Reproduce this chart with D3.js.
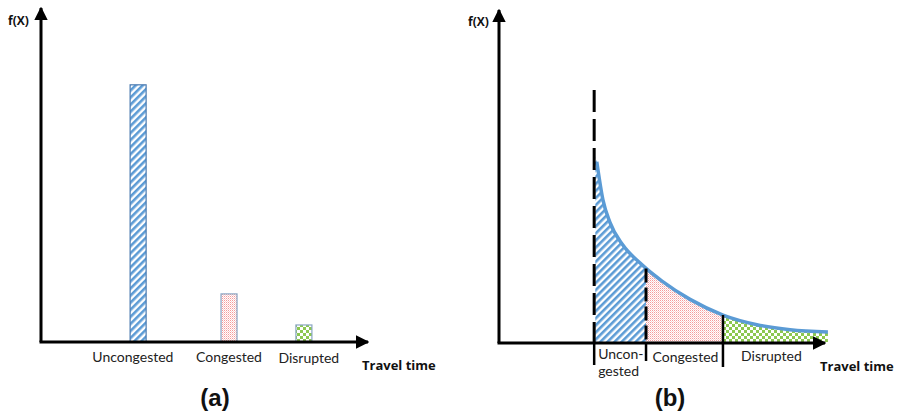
<!DOCTYPE html>
<html lang="en">
<head>
<meta charset="UTF-8" />
<title>Travel time distributions</title>
<script src="https://d3js.org/d3.v7.min.js"></script>
<style>
    body { margin: 0; background: #fff; }
    svg { display: block; }
    .lbl { font-family: Lato, "Open Sans", sans-serif; font-size: 14px; fill: #222; }
    .ttl { font-family: "Open Sans", Lato, sans-serif; font-size: 13px; font-weight: bold; fill: #111; }
    .pan { font-family: "Liberation Sans", Arial, sans-serif; font-size: 24px; font-weight: bold; fill: #111; }
</style>
</head>
<body>
<svg id="chart" width="897" height="415"></svg>
<script>
// --- Daten ---
// (a) diskrete Verteilung
const categories = ["Uncongested", "Congested", "Disrupted"];
const barValues = [7.7, 1.44, 0.51];
const barCenters = [2.97, 5.75, 8.04];      // Lage auf der Reisezeit-Achse
const barLabelCenters = [2.81, 5.75, 8.19];

// (b) stetige Verteilung
const curveX = [2.95, 3.0, 3.19, 3.4, 3.8, 4.33, 4.51, 5.0, 5.86, 6.87, 7.91, 8.93, 10.09];
const curveY = [5.6, 5.44, 4.29, 3.63, 2.94, 2.4, 2.24, 1.86, 1.31, 0.84, 0.55, 0.4, 0.33];
const segmentBounds = [2.95, 4.51, 6.87, 10.09];
const segmentLabels = [["Uncon-", "gested"], ["Congested"], ["Disrupted"]];
const dashTop = 7.6;

const svg = d3.select("#chart");
const defs = svg.append("defs");

// Muster: blau schraffiert, rot gepunktet, grün kariert
const hatch = defs.append("pattern").attr("id", "hatch")
    .attr("patternUnits", "userSpaceOnUse").attr("width", 5).attr("height", 5)
    .attr("patternTransform", "rotate(45)");
hatch.append("rect").attr("width", 5).attr("height", 5).attr("fill", "#fff");
hatch.append("rect").attr("width", 2.6).attr("height", 5).attr("fill", "#5b9bd5");

const dots = defs.append("pattern").attr("id", "dots")
    .attr("patternUnits", "userSpaceOnUse").attr("width", 2).attr("height", 2);
dots.append("rect").attr("width", 2).attr("height", 2).attr("fill", "#fff");
dots.append("rect").attr("width", 1).attr("height", 1).attr("fill", "#f59a9a");
dots.append("rect").attr("x", 1).attr("y", 1).attr("width", 1).attr("height", 1).attr("fill", "#fbd0d0");

const check = defs.append("pattern").attr("id", "check")
    .attr("patternUnits", "userSpaceOnUse").attr("width", 6).attr("height", 6);
check.append("rect").attr("width", 6).attr("height", 6).attr("fill", "#fff");
check.append("rect").attr("width", 3).attr("height", 3).attr("fill", "#8cc850");
check.append("rect").attr("x", 3).attr("y", 3).attr("width", 3).attr("height", 3).attr("fill", "#8cc850");

const fills = ["url(#hatch)", "url(#dots)", "url(#check)"];
const borders = ["#4a7ab0", "#8aa6c4", "#8aa6c4"];

defs.append("marker").attr("id", "arrow")
    .attr("viewBox", "0 0 10 10").attr("refX", 9).attr("refY", 5)
    .attr("markerWidth", 4.5).attr("markerHeight", 4.5).attr("orient", "auto")
    .append("path").attr("d", "M0,0 L10,5 L0,10 Z").attr("fill", "#000");

function drawAxes(g, x0, x1, y0, y1) {
    g.append("line").attr("x1", x0).attr("y1", y0).attr("x2", x0).attr("y2", y1)
        .attr("stroke", "#000").attr("stroke-width", 3).attr("marker-end", "url(#arrow)");
    g.append("line").attr("x1", x0 - 1.5).attr("y1", y0).attr("x2", x1).attr("y2", y0)
        .attr("stroke", "#000").attr("stroke-width", 3).attr("marker-end", "url(#arrow)");
}

// --- Panel (a) ---
(function () {
    const x = d3.scaleLinear().domain([0, 10]).range([41, 368]);
    const y = d3.scaleLinear().domain([0, 10]).range([342, 8]);
    const g = svg.append("g");
    const bw = 16;

    g.selectAll(".bar").data(barValues).join("rect")
        .attr("class", "bar")
        .attr("x", (d, i) => x(barCenters[i]) - bw / 2)
        .attr("y", d => y(d))
        .attr("width", bw)
        .attr("height", d => y(0) - y(d))
        .attr("fill", (d, i) => fills[i])
        .attr("stroke", (d, i) => borders[i])
        .attr("stroke-width", 1.2);

    drawAxes(g, x(0), x(10), y(0), y(10));

    g.selectAll(".cat").data(categories).join("text")
        .attr("class", "lbl")
        .attr("x", (d, i) => x(barLabelCenters[i]))
        .attr("y", (d, i) => i === 2 ? 363 : 362)
        .attr("text-anchor", "middle")
        .text(d => d);

    g.append("text").attr("class", "ttl").attr("x", 362).attr("y", 370).text("Travel time");
    g.append("text").attr("class", "ttl").attr("x", 8).attr("y", 25).style("font-size", "12px").text("f(X)");
    g.append("text").attr("class", "pan").attr("x", 215).attr("y", 406)
        .attr("text-anchor", "middle").text("(a)");
})();

// --- Panel (b) ---
(function () {
    const x = d3.scaleLinear().domain([0, 10]).range([499, 825]);
    const y = d3.scaleLinear().domain([0, 10]).range([343, 10]);
    const g = svg.append("g");
    const pts = curveX.map((v, i) => ({ t: v, f: curveY[i] }));
    const fAt = t => {
        const i = d3.bisector(d => d.t).left(pts, t);
        return pts[Math.min(i, pts.length - 1)].f;
    };

    const area = d3.area().curve(d3.curveMonotoneX)
        .x(d => x(d.t)).y0(y(0)).y1(d => y(d.f));
    const line = d3.line().curve(d3.curveMonotoneX)
        .x(d => x(d.t)).y(d => y(d.f));

    d3.range(3).forEach(i => {
        defs.append("clipPath").attr("id", "seg" + i)
            .append("rect")
            .attr("x", x(segmentBounds[i]))
            .attr("y", 0)
            .attr("width", x(segmentBounds[i + 1]) - x(segmentBounds[i]))
            .attr("height", y(0));
        g.append("path").datum(pts)
            .attr("d", area)
            .attr("fill", fills[i])
            .attr("clip-path", `url(#seg${i})`);
    });

    g.append("path").datum(pts.slice(1))
        .attr("d", line)
        .attr("fill", "none")
        .attr("stroke", "#5b9bd5")
        .attr("stroke-width", 3.5);

    // Trennlinien
    g.append("line")
        .attr("x1", x(segmentBounds[0]) - 1).attr("x2", x(segmentBounds[0]) - 1)
        .attr("y1", y(dashTop)).attr("y2", y(0))
        .attr("stroke", "#000").attr("stroke-width", 3).attr("stroke-dasharray", "22,7");
    g.append("line")
        .attr("x1", x(segmentBounds[1])).attr("x2", x(segmentBounds[1]))
        .attr("y1", y(fAt(segmentBounds[1]))).attr("y2", y(0))
        .attr("stroke", "#000").attr("stroke-width", 3).attr("stroke-dasharray", "14,5");
    g.append("line")
        .attr("x1", x(segmentBounds[2])).attr("x2", x(segmentBounds[2]))
        .attr("y1", y(fAt(segmentBounds[2]))).attr("y2", y(0))
        .attr("stroke", "#000").attr("stroke-width", 2.5);

    drawAxes(g, x(0), x(10), y(0), y(10));

    // Markierungen unter der Achse
    const tickLen = [22, 18, 24];
    segmentBounds.slice(0, 3).forEach((b, i) => {
        g.append("line")
            .attr("x1", x(b) - (i === 0 ? 1 : 0)).attr("x2", x(b) - (i === 0 ? 1 : 0))
            .attr("y1", y(0)).attr("y2", y(0) + tickLen[i])
            .attr("stroke", "#000").attr("stroke-width", 2.5);
    });

    g.append("text").attr("class", "lbl").attr("x", x(segmentBounds[0]) + 3).attr("y", 359).text(segmentLabels[0][0]);
    g.append("text").attr("class", "lbl").attr("x", x(segmentBounds[0]) + 3).attr("y", 376).text(segmentLabels[0][1]);
    g.append("text").attr("class", "lbl").attr("x", (x(segmentBounds[1]) + x(segmentBounds[2])) / 2 + 1)
        .attr("y", 362).attr("text-anchor", "middle").text(segmentLabels[1][0]);
    g.append("text").attr("class", "lbl").attr("x", (x(segmentBounds[2]) + x(segmentBounds[3])) / 2 - 4)
        .attr("y", 361).attr("text-anchor", "middle").text(segmentLabels[2][0]);

    g.append("text").attr("class", "ttl").attr("x", 820).attr("y", 371).text("Travel time");
    g.append("text").attr("class", "ttl").attr("x", 468).attr("y", 26).style("font-size", "12px").text("f(X)");
    g.append("text").attr("class", "pan").attr("x", 670).attr("y", 406)
        .attr("text-anchor", "middle").text("(b)");
})();
</script>
</body>
</html>
